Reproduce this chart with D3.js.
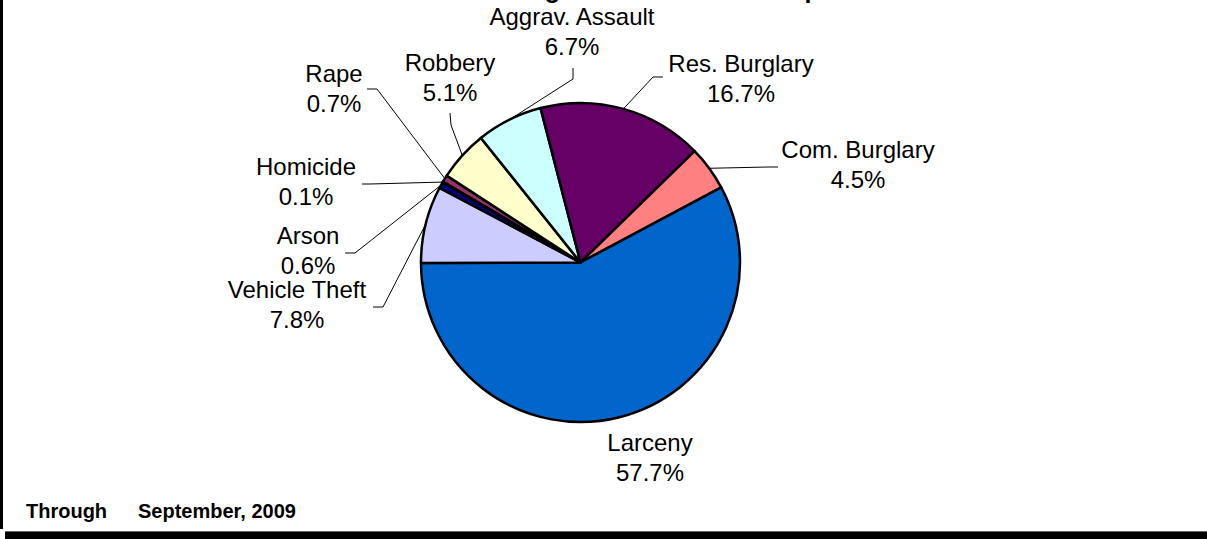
<!DOCTYPE html>
<html><head><meta charset="utf-8">
<script src="https://cdn.jsdelivr.net/npm/d3@7"></script>
<style>
body{margin:0;background:#fff;overflow:hidden;}
svg{display:block;}
text{font-family:"Liberation Sans",Arial,Helvetica,sans-serif;fill:#000;}
</style>
</head><body>
<svg id="c" width="1207" height="539"></svg>
<script>
// ---- data ----
const categories = ["Homicide","Rape","Robbery","Aggrav. Assault","Res. Burglary","Com. Burglary","Larceny","Vehicle Theft","Arson"];
const percents   = [0.1, 0.7, 5.1, 6.7, 16.7, 4.5, 57.7, 7.8, 0.6];
const colors     = ["#9999FF","#993366","#FFFFCC","#CCFFFF","#660066","#FF8080","#0066CC","#CCCCFF","#000080"];
const titleText  = "Percentage of Part I Crimes Reported";
const footerLabels = ["Through","September, 2009"];

// ---- layout ----
const W = 1207, H = 539;
const cx = 580.5, cy = 262.5, R = 159.5;
const startDeg = 300.1;
const labelLayout = {
  "Homicide":        {x:306, y:175, bend:[370,184], end:[362,184]},
  "Rape":            {x:334, y:82,  bend:[377,89],  end:[367,89]},
  "Robbery":         {x:450, y:71,  bend:[451,125], end:[450,113]},
  "Aggrav. Assault": {x:572, y:25,  bend:[573,79],  end:[573,68]},
  "Res. Burglary":   {x:741, y:72,  bend:[653,77],  end:[663,77]},
  "Com. Burglary":   {x:858, y:158, bend:[768,167], end:[778,167]},
  "Larceny":         {x:650, y:451},
  "Vehicle Theft":   {x:297, y:298, bend:[383,307], end:[373,307]},
  "Arson":           {x:308, y:244, bend:[355,253], end:[345,253]}
};

const svg = d3.select("#c");
svg.append("rect").attr("width",W).attr("height",H).attr("fill","#fff");

const rows = categories.map((c,i)=>({name:c, value:percents[i], color:colors[i]}));
const a0 = startDeg*Math.PI/180;
const pie = d3.pie().value(d=>d.value).sort(null).startAngle(a0).endAngle(a0+2*Math.PI);
const arcs = pie(rows);
const arc = d3.arc().innerRadius(0).outerRadius(R);

const g = svg.append("g").attr("transform",`translate(${cx},${cy})`);
g.selectAll("path.slice").data(arcs).join("path")
  .attr("class","slice")
  .attr("d",arc)
  .attr("fill",d=>d.data.color)
  .attr("stroke","#000")
  .attr("stroke-width",2.5)
  .attr("stroke-linejoin","round");

// leader lines
arcs.forEach(d=>{
  const L = labelLayout[d.data.name];
  if(!L.bend) return;
  const mid = (d.startAngle+d.endAngle)/2;
  const ex = cx + R*Math.sin(mid), ey = cy - R*Math.cos(mid);
  svg.append("polyline")
    .attr("points",`${ex},${ey} ${L.bend[0]},${L.bend[1]} ${L.end[0]},${L.end[1]}`)
    .attr("fill","none").attr("stroke","#000").attr("stroke-width",1);
});

// labels
const fmt = d3.format(".1f");
arcs.forEach(d=>{
  const L = labelLayout[d.data.name];
  const t = svg.append("text").attr("text-anchor","middle").attr("font-size",24);
  t.append("tspan").attr("x",L.x).attr("y",L.y).text(d.data.name);
  t.append("tspan").attr("x",L.x).attr("y",L.y+30).text(fmt(d.data.value)+"%");
});

// title (mostly cut off at top)
const title = svg.append("text").attr("font-size",25).attr("font-weight","bold")
  .attr("y",-2).attr("x",0).text(titleText);
let pre = 0;
try { pre = title.node().getSubStringLength(0, 9); } catch(e) { pre = 101; }
title.attr("x", 560 - pre);

// footer
svg.append("text").attr("x",26).attr("y",518).attr("font-size",20).attr("font-weight","bold").text(footerLabels[0]);
svg.append("text").attr("x",138).attr("y",518).attr("font-size",20).attr("font-weight","bold").text(footerLabels[1]);

// frame
svg.append("rect").attr("x",0).attr("y",0).attr("width",3).attr("height",529).attr("fill","#000");
svg.append("rect").attr("x",5).attr("y",531).attr("width",W-5).attr("height",8).attr("fill","#000");
svg.append("rect").attr("x",5).attr("y",531).attr("width",W-5).attr("height",1).attr("fill","#666");
</script>
</body></html>
